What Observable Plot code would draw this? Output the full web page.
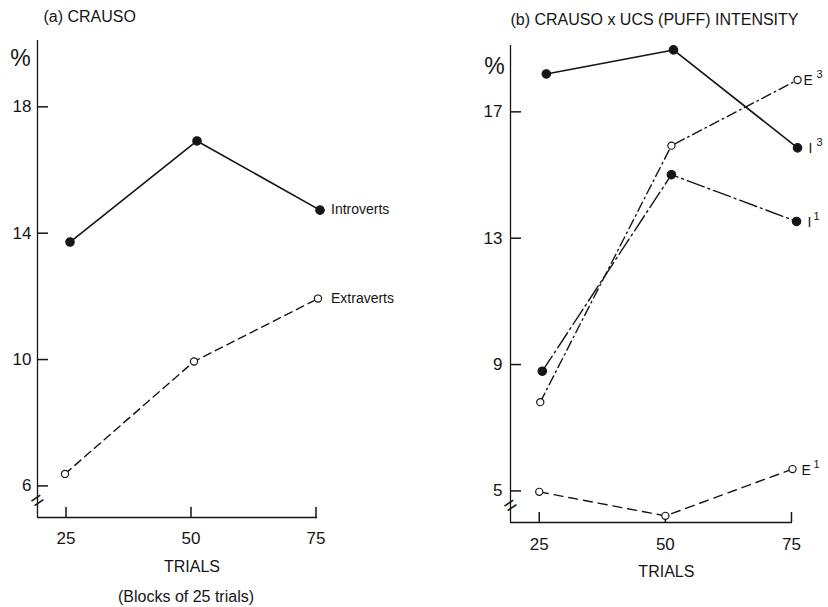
<!DOCTYPE html>
<html><head><meta charset="utf-8">
<script src="https://cdn.jsdelivr.net/npm/d3@7"></script>
<script src="https://cdn.jsdelivr.net/npm/@observablehq/plot@0.6"></script>
<style>
body{margin:0;background:#fff;}
#wrap{position:relative;width:828px;height:607px;overflow:hidden;}
#wrap svg{position:absolute;top:0;}
</style></head><body><div id="wrap"></div>
<script>
// ---- shared ----
const trials = [25, 50, 75];
const xLabel = "TRIALS";
const xNote = "(Blocks of 25 trials)";

// ---- panel (a) CRAUSO ----
const aTitle = "(a) CRAUSO";
const aYTicks = [6, 10, 14, 18];
const aIntrovertsTrial = [25.8, 51.2, 75.8];
const aIntrovertsPct = [13.72, 16.92, 14.73];
const aExtravertsTrial = [24.8, 50.6, 75.4];
const aExtravertsPct = [6.38, 9.94, 11.93];

// ---- panel (b) CRAUSO x UCS (PUFF) INTENSITY ----
const bTitle = "(b) CRAUSO x UCS (PUFF) INTENSITY";
const bYTicks = [5, 9, 13, 17];
const bI3Trial = [26.4, 51.6, 76.2];
const bI3Pct = [18.20, 18.96, 15.86];
const bE3Trial = [25.2, 51.2, 76.2];
const bE3Pct = [7.81, 15.93, 18.01];
const bI1Trial = [25.6, 51.2, 76.0];
const bI1Pct = [8.79, 15.01, 13.53];
const bE1Trial = [25.0, 50.0, 75.2];
const bE1Pct = [4.97, 4.21, 5.69];

const INK = "#151515";
const FONT = "'Liberation Sans', Arial, Helvetica, sans-serif";
const W = 414, H = 607;
const TICK_X = 10, TICK_Y = 11; // tick lengths in px

function rows(tr, pct) { return tr.map((t, i) => ({trial: t, pct: pct[i]})); }

function panel(cfg) {
  const frameW = W - cfg.ml - cfg.mr, frameH = H - cfg.mt - cfg.mb;
  const [x0, x1] = cfg.xDomain, [y0, y1] = cfg.yDomain;
  const xPerPx = (x1 - x0) / frameW, yPerPx = (y1 - y0) / frameH;
  const marks = [
    Plot.ruleX([x0], {stroke: INK, strokeWidth: 1.3}),
    Plot.ruleY([y0], {stroke: INK, strokeWidth: 1.3}),
    // inward tick marks (length converted from px through the scale)
    Plot.ruleX(trials, {x: d => d, y1: y0, y2: y0 + TICK_X * yPerPx, stroke: INK, strokeWidth: 1.5}),
    Plot.ruleY(cfg.yTicks, {y: d => d, x1: x0, x2: x0 + TICK_Y * xPerPx, stroke: INK, strokeWidth: 1.5}),
    Plot.axisX(trials, {tickSize: 0, tickPadding: cfg.xPad, label: null, fontSize: 17, fill: INK}),
    Plot.axisY(cfg.yTicks, {tickSize: 0, tickPadding: cfg.yPad, label: null, fontSize: 17, fill: INK}),
    Plot.text(["="], {frameAnchor: "bottom-left", dy: -17, rotate: -35, fontSize: 22, fill: INK, textAnchor: "middle", lineAnchor: "middle"}),
    Plot.text([cfg.title], {frameAnchor: "top-left", dx: cfg.titleDx, dy: cfg.titleDy, textAnchor: "start", lineAnchor: "middle", fontSize: cfg.titleSize, fill: INK}),
    Plot.text(["%"], {frameAnchor: "top-left", dx: cfg.pctDx, dy: cfg.pctDy, textAnchor: "middle", lineAnchor: "middle", fontSize: 23, fill: INK}),
    Plot.text([xLabel], {x: [trials[1]], frameAnchor: "bottom", dy: 49, dx: 1, lineAnchor: "middle", fontSize: 16, letterSpacing: "0.5px", fill: INK})
  ];
  if (cfg.note) marks.push(Plot.text([cfg.note], {x: [trials[1]], frameAnchor: "bottom", dy: 79, dx: -5, lineAnchor: "middle", fontSize: 16, letterSpacing: "0.5px", fill: INK}));
  for (const s of cfg.series) {
    const d = rows(s.trial, s.pct);
    marks.push(Plot.line(d, {x: "trial", y: "pct", stroke: INK, strokeWidth: s.dash ? 1.4 : 1.6, strokeDasharray: s.dash || null}));
  }
  for (const s of cfg.series) {
    const d = rows(s.trial, s.pct);
    marks.push(Plot.dot(d, {x: "trial", y: "pct", r: s.filled ? 4.2 : 3.6, fill: s.filled ? INK : "white", stroke: INK, strokeWidth: 1.2}));
    const last = d.slice(-1);
    marks.push(Plot.text(last, {x: "trial", y: "pct", text: () => s.label, dx: s.labelDx, dy: s.labelDy || 0, textAnchor: "start", lineAnchor: "middle", fontSize: 14, fill: INK}));
    if (s.sup) marks.push(Plot.text(last, {x: "trial", y: "pct", text: () => s.sup, dx: s.labelDx + s.supDx, dy: (s.labelDy || 0) - 6, textAnchor: "start", lineAnchor: "middle", fontSize: 11, fill: INK}));
  }
  const svg = Plot.plot({
    width: W, height: H,
    marginLeft: cfg.ml, marginRight: cfg.mr, marginTop: cfg.mt, marginBottom: cfg.mb,
    x: {domain: cfg.xDomain, axis: null},
    y: {domain: cfg.yDomain, axis: null},
    style: {fontFamily: FONT, fontSize: "16px", color: INK, background: "transparent", overflow: "visible"},
    marks
  });
  svg.style.left = cfg.left + "px";
  return svg;
}

const wrap = document.getElementById("wrap");
wrap.appendChild(panel({
  left: 0, ml: 37, mr: 97, mt: 40, mb: 90,
  xDomain: [19.3, 75.3], yDomain: [5, 20.1], yTicks: aYTicks,
  xPad: 14, yPad: 6,
  title: aTitle, titleDx: 6, titleDy: -24, titleSize: 16,
  pctDx: -17, pctDy: 18, note: xNote,
  series: [
    {trial: aIntrovertsTrial, pct: aIntrovertsPct, filled: true, dash: null, label: "Introverts", labelDx: 11, labelDy: -1},
    {trial: aExtravertsTrial, pct: aExtravertsPct, filled: false, dash: "8,5", label: "Extraverts", labelDx: 13, labelDy: 0}
  ]
}));
wrap.appendChild(panel({
  left: 414, ml: 96, mr: 36, mt: 45, mb: 85,
  xDomain: [19.3, 75.2], yDomain: [4, 19.1], yTicks: bYTicks,
  xPad: 15, yPad: 8,
  title: bTitle, titleDx: 0, titleDy: -26, titleSize: 16,
  pctDx: -16, pctDy: 21, note: null,
  series: [
    {trial: bI3Trial, pct: bI3Pct, filled: true, dash: null, label: "I", sup: "3", supDx: 8, labelDx: 11, labelDy: 1},
    {trial: bE3Trial, pct: bE3Pct, filled: false, dash: "10,4,1.5,4", label: "E", sup: "3", supDx: 13, labelDx: 6, labelDy: 1},
    {trial: bI1Trial, pct: bI1Pct, filled: true, dash: "18,4,2,4", label: "I", sup: "1", supDx: 6, labelDx: 11, labelDy: 1},
    {trial: bE1Trial, pct: bE1Pct, filled: false, dash: "9,6", label: "E", sup: "1", supDx: 12, labelDx: 9, labelDy: 1}
  ]
}));
</script></body></html>
